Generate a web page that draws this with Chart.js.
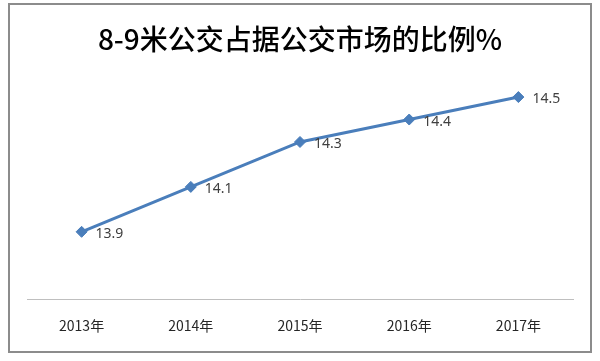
<!DOCTYPE html>
<html>
<head>
<meta charset="utf-8">
<script src="https://cdn.jsdelivr.net/npm/chart.js@4"></script>
<style>
  html, body { margin: 0; padding: 0; background: #ffffff; }
  #wrap { position: relative; width: 600px; height: 361px; }
</style>
</head>
<body>
<div id="wrap"><canvas id="c" width="600" height="361"></canvas></div>
<script>
const categories = ['2013年', '2014年', '2015年', '2016年', '2017年'];
const shareValues = [13.9, 14.1, 14.3, 14.4, 14.5];
const valueLabels = ['13.9', '14.1', '14.3', '14.4', '14.5'];
const titleText = '8-9米公交占据公交市场的比例%';

const framePlugin = {
  id: 'frame',
  beforeDraw(chart) {
    const ctx = chart.ctx;
    ctx.save();
    ctx.fillStyle = '#ffffff';
    ctx.fillRect(0, 0, chart.width, chart.height);
    ctx.strokeStyle = '#8c8c8c';
    ctx.lineWidth = 2;
    ctx.strokeRect(9, 4, 582, 348);
    ctx.restore();
  }
};

const labelPlugin = {
  id: 'valueLabels',
  afterDatasetsDraw(chart) {
    const ctx = chart.ctx;
    const meta = chart.getDatasetMeta(0);
    ctx.save();
    ctx.font = '14px "Noto Sans", "Liberation Sans", sans-serif';
    ctx.fillStyle = '#404040';
    ctx.textAlign = 'left';
    ctx.textBaseline = 'middle';
    meta.data.forEach((pt, i) => {
      ctx.fillText(valueLabels[i], pt.x + 14, pt.y + 2);
    });
    ctx.restore();
  }
};

new Chart(document.getElementById('c'), {
  type: 'line',
  data: {
    labels: categories,
    datasets: [{
      data: shareValues,
      borderColor: '#4a7ebb',
      backgroundColor: '#4a7ebb',
      borderWidth: 3,
      pointStyle: 'rectRot',
      pointRadius: 5.5,
      pointBackgroundColor: '#4a7ebb',
      pointBorderColor: '#4a7ebb',
      pointBorderWidth: 1,
      tension: 0,
      fill: false
    }]
  },
  options: {
    responsive: false,
    animation: false,
    layout: { padding: { left: 27, right: 27, top: 0, bottom: 9 } },
    plugins: {
      legend: { display: false },
      tooltip: { enabled: false },
      title: {
        display: true,
        text: titleText,
        color: '#000000',
        font: { family: '"Noto Sans CJK SC", sans-serif', size: 28, weight: '500', lineHeight: 1.2 },
        padding: { top: 23, bottom: 18 }
      }
    },
    scales: {
      x: {
        offset: true,
        grid: { display: false, drawTicks: false },
        border: { display: true, color: '#bfbfbf', width: 1 },
        ticks: {
          color: '#262626',
          padding: 18,
          font: { family: '"Noto Sans CJK SC", sans-serif', size: 14, lineHeight: 1.2 }
        }
      },
      y: {
        display: false,
        min: 13.6,
        max: 14.6
      }
    }
  },
  plugins: [framePlugin, labelPlugin]
});
</script>
</body>
</html>
